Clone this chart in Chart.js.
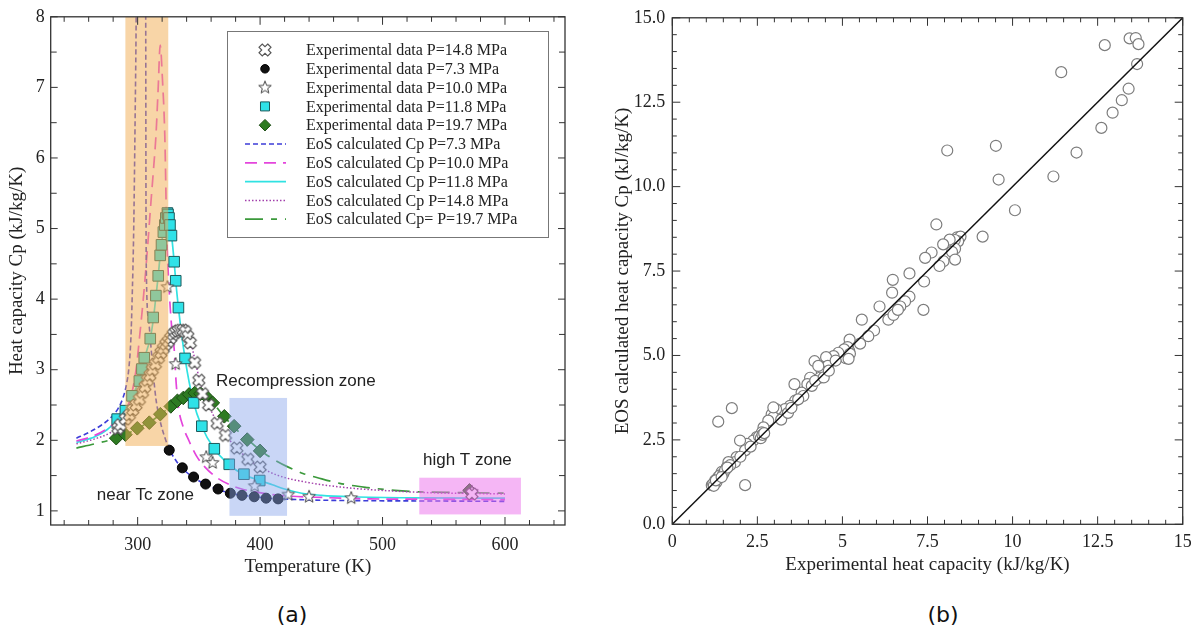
<!DOCTYPE html>
<html>
<head>
<meta charset="utf-8">
<title>Heat capacity Cp</title>
<script src="https://cdn.jsdelivr.net/npm/chart.js@4.4.1/dist/chart.umd.min.js"></script>
<style>
  body { margin: 0; background: #fff; width: 1200px; height: 634px; position: relative; overflow: hidden; }
  canvas { position: absolute; top: 0; }
  #cvA { left: 0; }
  #cvB { left: 600px; }
  .tag { position: absolute; top: 602px; font: 22px "DejaVu Sans", sans-serif; color: #111; transform: translateX(-50%); }
</style>
</head>
<body>
<canvas id="cvA" width="600" height="590" style="width:600px;height:590px"></canvas>
<canvas id="cvB" width="600" height="590" style="width:600px;height:590px"></canvas>
<div class="tag" style="left:292px">(a)</div>
<div class="tag" style="left:943px">(b)</div>

<script>
// ---------- panel (a) data : temperature (K), Cp (kJ/kg/K) ----------
var tempTicks = [300, 400, 500, 600];
var cpTicks = [1, 2, 3, 4, 5, 6, 7, 8];

// experimental points
var exp148 = [[283.8,2.17],[286,2.22],[290,2.3],[293.2,2.36],[296,2.43],[298.7,2.5],[301.5,2.58],[304,2.68],[306,2.76],[308,2.85],[310,2.92],[312,3.0],[314.5,3.08],[317,3.17],[319,3.24],[321,3.3],[323,3.36],[325,3.4],[327,3.45],[329,3.5],[331,3.53],[333,3.55],[335,3.56],[337,3.56],[339,3.54],[341,3.47],[343,3.38],[346.5,3.1],[350,2.85],[353,2.66],[358,2.5],[365,2.24],[371.7,2.07],[381,1.89],[390,1.73],[400,1.62],[573,1.24]];
var exp73 = [[325.8,1.86],[336.5,1.61],[345.7,1.48],[355.5,1.38],[365.7,1.31],[375.7,1.25],[385.2,1.22],[395.2,1.2],[404.9,1.18],[414.7,1.17]];
var exp100 = [[283.8,2.15],[286.8,2.21],[324.3,4.17],[331,3.08],[356,1.76],[361.2,1.68],[395.5,1.35],[423,1.23],[440,1.2],[474.4,1.18],[573,1.27]];
var exp118 = [[283.3,2.3],[290,2.42],[295.4,2.63],[301.4,2.84],[303.5,3.01],[305.4,3.17],[310.3,3.44],[312.7,3.74],[314.9,4.05],[316.8,4.33],[318.4,4.62],[319.5,4.77],[321,4.95],[322.2,5.05],[323,5.15],[324.3,5.22],[324.8,5.2],[325.6,5.15],[326.4,5.05],[327.6,4.9],[329.8,4.53],[331.1,4.26],[333.3,3.88],[338.7,3.16],[345.7,2.53],[352.4,2.2],[362.6,1.88],[374.8,1.66],[386.8,1.52],[399.7,1.43]];
var exp197 = [[282.5,2.03],[290,2.08],[299.7,2.17],[309.5,2.25],[318.5,2.37],[327.1,2.48],[332.5,2.56],[337.3,2.6],[342,2.65],[346.6,2.67],[351.4,2.66],[355.5,2.63],[361.4,2.53],[370.8,2.34],[378.8,2.2],[389.5,2.01],[400,1.85],[571,1.29]];

// EoS curves
var eos73 = [[250,2.03],[260,2.11],[270,2.21],[278,2.32],[284,2.45],[288,2.6],[291,2.8],[293,3.05],[294.5,3.45],[295.5,4.0],[296.8,5.0],[297.9,6.5],[298.8,8.0],[299.3,9.5],[306.4,9.5],[306.6,8.0],[306.8,5.5],[307.2,4.3],[309,3.7],[311,3.3],[313,2.9],[315,2.58],[318,2.3],[322,2.05],[326,1.87],[331,1.72],[336,1.61],[346,1.47],[356,1.37],[366,1.3],[376,1.25],[386,1.22],[396,1.2],[406,1.18],[416,1.17],[440,1.155],[480,1.145],[540,1.14],[600,1.135]];
var eos100 = [[250,1.99],[265,2.07],[278,2.2],[286,2.33],[291,2.45],[295,2.65],[298.7,3.0],[301.5,3.45],[304.6,4.0],[307.5,4.6],[310.8,5.36],[313,5.85],[314.9,6.3],[316.8,7.0],[318.4,7.6],[320.3,7.1],[322.2,6.3],[323.8,4.9],[325.7,4.15],[327.8,3.6],[329.8,3.3],[331.5,2.8],[333.5,2.45],[337,2.2],[342,1.99],[348,1.78],[355,1.62],[364,1.48],[374,1.38],[385,1.31],[396,1.27],[410,1.23],[423,1.21],[450,1.19],[490,1.17],[540,1.165],[600,1.16]];
var eos118 = [[250,1.97],[265,2.05],[275,2.15],[283,2.28],[290,2.42],[295.4,2.62],[301.4,2.86],[305.4,3.15],[308,3.3],[310.3,3.44],[313,3.74],[315,4.05],[316.8,4.33],[318.4,4.62],[320,4.85],[322.2,5.05],[324.3,5.22],[325.6,5.18],[327.6,4.92],[329.8,4.53],[331.1,4.26],[333.3,3.88],[338.7,3.16],[345.5,2.55],[352,2.21],[362.5,1.88],[374.5,1.66],[386,1.52],[400,1.43],[410,1.37],[420,1.31],[434,1.25],[450,1.22],[475,1.2],[530,1.185],[600,1.18]];
var eos148 = [[250,1.95],[265,2.02],[277,2.1],[285,2.2],[290,2.29],[295,2.4],[300,2.52],[305,2.66],[310,2.82],[315,2.98],[320,3.16],[325,3.34],[330,3.48],[334,3.55],[337,3.57],[340,3.53],[343,3.42],[347,3.12],[351,2.83],[358,2.5],[365,2.25],[372,2.07],[381,1.89],[390,1.74],[400,1.62],[415,1.5],[440,1.4],[470,1.33],[500,1.29],[535,1.26],[600,1.24]];
var eos197 = [[250,1.89],[265,1.95],[282.5,2.03],[290,2.08],[300,2.17],[310,2.26],[319,2.37],[327,2.48],[333,2.56],[338,2.61],[343,2.65],[348,2.67],[352,2.66],[356,2.62],[362,2.52],[370,2.35],[379,2.18],[390,2.01],[400,1.86],[412,1.72],[423,1.62],[435,1.53],[447,1.47],[465,1.39],[488,1.33],[510,1.29],[530,1.27],[560,1.26],[600,1.25]];

// shaded zones (T range, Cp range) and their notes
var zoneT = [[290, 325], [375, 422], [530, 613]];
var zoneCp = [[1.92, 8], [0.93, 2.6], [0.95, 1.47]];
var noteText = ['near Tc zone', 'Recompression zone', 'high T zone'];
var noteT = [266.6, 364, 533];
var noteCp = [1.22, 2.83, 1.71];

// ---------- panel (b) data : experimental vs EOS Cp ----------
var parityTicks = [0, 2.5, 5, 7.5, 10, 12.5, 15];
var expCp = [12.71,13.44,13.62,13.7,13.66,11.43,13.41,13.21,12.94,12.61,11.88,11.2,9.51,8.08,9.59,10.07,9.12,7.76,
  8.37,8.42,8.47,8.4,8.3,8.15,7.96,8.31,8.22,7.62,7.43,8.31,7.97,7.85,6.97,7.4,6.97,6.84,6.7,7.38,6.48,6.46,6.09,6.35,6.5,6.63,5.57,5.93,5.76,5.52,5.21,
  5.07,5.12,5.17,5.2,5.1,5.15,5.05,5.22,5.18,4.88,4.74,4.52,4.57,4.39,4.18,4.29,4.34,4.05,3.97,3.8,3.59,3.85,3.61,3.46,3.31,3.12,3.05,2.92,2.97,2.82,2.68,2.63,2.48,2.38,2.19,1.99,2.14,1.89,1.84,1.65,1.6,1.45,1.35,1.26,1.16,1.75,1.35,2.14,2.97,
  1.2,1.3,1.4,1.5,1.55,1.7,2.0,2.3,2.55,2.6,2.65,2.7,3.2,3.4,3.5,3.7,4.1,4.2,4.45,4.6,4.8,1.22,1.28,1.45,1.62];
var eosCp = [14.19,14.39,14.4,14.22,13.63,13.39,12.9,12.56,12.19,11.74,11.01,10.3,11.21,11.07,10.21,9.3,8.52,8.88,
  8.5,8.45,8.52,8.38,8.42,8.43,8.29,8.16,8.07,8.05,7.89,7.84,7.79,7.65,7.43,7.19,6.74,6.6,6.45,6.35,7.24,6.86,6.45,6.06,6.2,6.35,6.06,5.74,5.57,5.35,5.47,
  5.0,5.1,5.2,5.13,4.92,5.25,5.18,5.05,4.9,5.08,4.98,4.95,4.69,4.54,4.83,4.69,4.34,4.34,4.15,3.9,4.15,3.8,3.66,3.51,3.41,3.26,3.41,3.26,3.17,3.07,2.87,2.72,2.58,2.48,2.38,2.48,2.19,1.99,1.84,1.84,1.69,1.55,1.4,1.3,1.16,3.44,3.04,1.16,3.46,
  1.2,1.25,1.45,1.5,1.6,1.75,2.0,2.3,2.6,2.55,2.65,2.7,3.1,3.3,3.45,3.7,4.1,4.25,4.35,4.55,4.85,1.14,1.3,1.4,1.68];
var parityLine = [0, 15];

// ---------- helpers ----------
var SERIF = '"Liberation Serif", "Times New Roman", serif';
var SANS = '"Liberation Sans", Arial, sans-serif';

function pts(arr) { return arr.map(function (p) { return { x: p[0], y: p[1] }; }); }

function markerCanvas(size, draw) {
  var c = document.createElement('canvas');
  c.width = size; c.height = size;
  var g = c.getContext('2d');
  g.translate(size / 2, size / 2);
  draw(g);
  return c;
}

var starMark = markerCanvas(16, function (g) {
  g.beginPath();
  for (var i = 0; i < 10; i++) {
    var r = i % 2 ? 2.8 : 6.6;
    var a = -Math.PI / 2 + i * Math.PI / 5;
    g.lineTo(r * Math.cos(a), r * Math.sin(a));
  }
  g.closePath();
  g.fillStyle = '#fff'; g.fill();
  g.strokeStyle = '#444'; g.lineWidth = 1; g.stroke();
});

var crossMark = markerCanvas(16, function (g) {
  var a = 2.3, L = 6.2;
  var shape = [[-a,-L],[a,-L],[a,-a],[L,-a],[L,a],[a,a],[a,L],[-a,L],[-a,a],[-L,a],[-L,-a],[-a,-a]];
  g.rotate(Math.PI / 4);
  g.beginPath();
  shape.forEach(function (p) { g.lineTo(p[0], p[1]); });
  g.closePath();
  g.fillStyle = '#fff'; g.fill();
  g.strokeStyle = '#555'; g.lineWidth = 1.1; g.stroke();
});

// box with inner tick marks on all four sides
var frameTicks = {
  id: 'frameTicks',
  afterDraw: function (chart, args, o) {
    var ctx = chart.ctx, a = chart.chartArea, sx = chart.scales.x, sy = chart.scales.y;
    ctx.save();
    ctx.strokeStyle = '#333';
    ctx.lineWidth = 1.3;
    ctx.strokeRect(a.left, a.top, a.right - a.left, a.bottom - a.top);
    ctx.lineWidth = 1;
    ctx.beginPath();
    var n = Math.round((o.xEnd - o.xStart) / o.xStep);
    for (var i = 0; i <= n; i++) {
      var v = o.xStart + i * o.xStep;
      var px = sx.getPixelForValue(v);
      var len = Math.abs(v / o.xMajor - Math.round(v / o.xMajor)) < 1e-6 ? o.majorLen : o.minorLen;
      ctx.moveTo(px, a.bottom); ctx.lineTo(px, a.bottom - len);
      ctx.moveTo(px, a.top); ctx.lineTo(px, a.top + len);
    }
    n = Math.round((o.yEnd - o.yStart) / o.yStep);
    for (i = 0; i <= n; i++) {
      v = o.yStart + i * o.yStep;
      var py = sy.getPixelForValue(v);
      len = Math.abs(v / o.yMajor - Math.round(v / o.yMajor)) < 1e-6 ? o.yMajorLen : o.yMinorLen;
      ctx.moveTo(a.left, py); ctx.lineTo(a.left + len, py);
      ctx.moveTo(a.right, py); ctx.lineTo(a.right - len, py);
    }
    ctx.stroke();
    ctx.restore();
  }
};

// translucent zones drawn over the data, plus their notes
var zonePlugin = {
  id: 'zones',
  afterDatasetsDraw: function (chart, args, o) {
    var ctx = chart.ctx, sx = chart.scales.x, sy = chart.scales.y;
    ctx.save();
    zoneT.forEach(function (t, i) {
      var x0 = sx.getPixelForValue(t[0]), x1 = sx.getPixelForValue(t[1]);
      var y0 = sy.getPixelForValue(zoneCp[i][1]), y1 = sy.getPixelForValue(zoneCp[i][0]);
      ctx.fillStyle = o.colors[i];
      ctx.fillRect(x0, y0, x1 - x0, y1 - y0);
    });
    ctx.fillStyle = '#222';
    ctx.font = '17px ' + SANS;
    ctx.textAlign = 'left';
    ctx.textBaseline = 'middle';
    noteText.forEach(function (s, i) {
      ctx.fillText(s, sx.getPixelForValue(noteT[i]), sy.getPixelForValue(noteCp[i]));
    });
    ctx.restore();
  }
};

// framed legend inside the plot
var boxLegend = {
  id: 'boxLegend',
  afterDraw: function (chart, args, o) {
    var ctx = chart.ctx;
    ctx.save();
    ctx.fillStyle = '#fff';
    ctx.fillRect(o.x0, o.y0, o.x1 - o.x0, o.y1 - o.y0);
    ctx.strokeStyle = '#777';
    ctx.lineWidth = 1;
    ctx.strokeRect(o.x0 + 0.5, o.y0 + 0.5, o.x1 - o.x0, o.y1 - o.y0);
    chart.data.datasets.forEach(function (ds, i) {
      var y = o.row0 + i * o.rowGap;
      if (ds.type === 'line') {
        ctx.save();
        ctx.strokeStyle = ds.borderColor;
        ctx.lineWidth = ds.borderWidth;
        ctx.setLineDash(ds.borderDash || []);
        ctx.beginPath();
        ctx.moveTo(o.lineX0, y); ctx.lineTo(o.lineX1, y);
        ctx.stroke();
        ctx.restore();
      } else {
        ctx.save();
        ctx.fillStyle = ds.backgroundColor || '#000';
        ctx.strokeStyle = ds.borderColor || '#000';
        ctx.lineWidth = ds.borderWidth || 0;
        Chart.helpers.drawPoint(ctx, { pointStyle: ds.pointStyle, radius: ds.pointRadius * 0.85, borderWidth: ds.borderWidth || 0, rotation: 0 }, o.markX, y);
        ctx.restore();
      }
      ctx.fillStyle = '#222';
      ctx.font = '16px ' + SERIF;
      ctx.textAlign = 'left';
      ctx.textBaseline = 'middle';
      ctx.fillText(ds.label, o.textX, y + 1);
    });
    ctx.restore();
  }
};

function tickFont() { return { family: SERIF, size: 18 }; }

// ---------- panel (a) ----------
new Chart(document.getElementById('cvA'), {
  type: 'scatter',
  data: {
    datasets: [
      { label: 'Experimental data P=14.8 MPa', data: pts(exp148), pointStyle: crossMark, pointRadius: 6 },
      { label: 'Experimental data P=7.3 MPa', data: pts(exp73), pointStyle: 'circle', pointRadius: 5, backgroundColor: '#111', borderColor: '#000', borderWidth: 1 },
      { label: 'Experimental data P=10.0 MPa', data: pts(exp100), pointStyle: starMark, pointRadius: 6 },
      { label: 'Experimental data P=11.8 MPa', data: pts(exp118), pointStyle: 'rect', pointRadius: 7.5, backgroundColor: '#2fe2e8', borderColor: '#1d5a5c', borderWidth: 1 },
      { label: 'Experimental data P=19.7 MPa', data: pts(exp197), pointStyle: 'rectRot', pointRadius: 6.8, backgroundColor: '#2e7b22', borderColor: '#1c4d14', borderWidth: 1 },
      { type: 'line', label: 'EoS calculated Cp P=7.3 MPa', data: pts(eos73), borderColor: '#3d3dd8', borderWidth: 1.6, borderDash: [5, 3], pointRadius: 0, cubicInterpolationMode: 'monotone' },
      { type: 'line', label: 'EoS calculated Cp P=10.0 MPa', data: pts(eos100), borderColor: '#e445dc', borderWidth: 1.7, borderDash: [12, 7], pointRadius: 0, cubicInterpolationMode: 'monotone' },
      { type: 'line', label: 'EoS calculated Cp P=11.8 MPa', data: pts(eos118), borderColor: '#30e2e2', borderWidth: 1.7, pointRadius: 0, cubicInterpolationMode: 'monotone' },
      { type: 'line', label: 'EoS calculated Cp P=14.8 MPa', data: pts(eos148), borderColor: '#a23fab', borderWidth: 1.5, borderDash: [1.5, 2], pointRadius: 0, cubicInterpolationMode: 'monotone' },
      { type: 'line', label: 'EoS calculated Cp= P=19.7 MPa', data: pts(eos197), borderColor: '#3b993b', borderWidth: 1.7, borderDash: [18, 8, 6, 8], pointRadius: 0, cubicInterpolationMode: 'monotone' }
    ]
  },
  options: {
    responsive: false,
    animation: false,
    events: [],
    layout: { padding: { top: 12.7, right: 35, left: 0, bottom: 0 } },
    plugins: {
      legend: { display: false },
      tooltip: { enabled: false },
      zones: { colors: ['rgba(242,172,80,0.5)', 'rgba(135,165,235,0.45)', 'rgba(236,110,236,0.5)'] },
      frameTicks: { xStart: 240, xEnd: 640, xStep: 20, xMajor: 100, majorLen: 8, minorLen: 5, yStart: 1, yEnd: 8, yStep: 0.5, yMajor: 1, yMajorLen: 7, yMinorLen: 6 },
      boxLegend: { x0: 227, y0: 31, x1: 548, y1: 237, markX: 265, lineX0: 245, lineX1: 286, textX: 306, row0: 50, rowGap: 18.8 }
    },
    scales: {
      x: {
        type: 'linear', min: 229, max: 649,
        afterBuildTicks: function (s) { s.ticks = tempTicks.map(function (v) { return { value: v }; }); },
        afterFit: function (s) { s.height = 65; },
        grid: { display: false, drawTicks: false },
        border: { display: false },
        ticks: { font: tickFont(), color: '#222', padding: 9, maxRotation: 0 },
        title: { display: true, text: 'Temperature (K)', font: { family: SERIF, size: 19 }, color: '#222', padding: { top: 0, bottom: 11.6 } }
      },
      y: {
        type: 'linear', min: 0.8, max: 8,
        afterBuildTicks: function (s) { s.ticks = cpTicks.map(function (v) { return { value: v }; }); },
        afterFit: function (s) { s.width = 50.7; },
        grid: { display: false, drawTicks: false },
        border: { display: false },
        ticks: { font: tickFont(), color: '#222', padding: 6 },
        title: { display: true, text: 'Heat capacity Cp (kJ/kg/K)', font: { family: SERIF, size: 19 }, color: '#222', padding: { top: 5.6, bottom: 0 } }
      }
    }
  },
  plugins: [zonePlugin, frameTicks, boxLegend]
});

// ---------- panel (b) ----------
new Chart(document.getElementById('cvB'), {
  type: 'scatter',
  data: {
    datasets: [
      { type: 'line', label: 'y = x', data: parityLine.map(function (v) { return { x: v, y: v }; }), borderColor: '#111', borderWidth: 1.4, pointRadius: 0 },
      { label: 'EOS vs experiment', data: expCp.map(function (v, i) { return { x: v, y: eosCp[i] }; }), pointStyle: 'circle', pointRadius: 5.5, backgroundColor: '#fff', borderColor: '#7d7d7d', borderWidth: 1.2 }
    ]
  },
  options: {
    responsive: false,
    animation: false,
    events: [],
    layout: { padding: { top: 14, right: 17.3, left: 0, bottom: 0 } },
    plugins: {
      legend: { display: false },
      tooltip: { enabled: false },
      frameTicks: { xStart: 0, xEnd: 15, xStep: 0.5, xMajor: 2.5, majorLen: 8, minorLen: 4.5, yStart: 0, yEnd: 15, yStep: 0.5, yMajor: 2.5, yMajorLen: 8, yMinorLen: 4.5 }
    },
    scales: {
      x: {
        type: 'linear', min: 0, max: 15,
        afterBuildTicks: function (s) { s.ticks = parityTicks.map(function (v) { return { value: v }; }); },
        afterFit: function (s) { s.height = 65.7; },
        grid: { display: false, drawTicks: false },
        border: { display: false },
        ticks: { font: tickFont(), color: '#222', padding: 7, maxRotation: 0, callback: function (v) { return String(v); } },
        title: { display: true, text: 'Experimental heat capacity (kJ/kg/K)', font: { family: SERIF, size: 19 }, color: '#222', padding: { top: 0, bottom: 13.6 } }
      },
      y: {
        type: 'linear', min: 0, max: 15,
        afterBuildTicks: function (s) { s.ticks = parityTicks.map(function (v) { return { value: v }; }); },
        afterFit: function (s) { s.width = 72.3; },
        grid: { display: false, drawTicks: false },
        border: { display: false },
        ticks: { font: tickFont(), color: '#222', padding: 7, callback: function (v) { return v.toFixed(1); } },
        title: { display: true, text: 'EOS calculated heat capacity Cp (kJ/kg/K)', font: { family: SERIF, size: 19 }, color: '#222', padding: { top: 11.6, bottom: 0 } }
      }
    }
  },
  plugins: [frameTicks]
});
</script>
</body>
</html>
